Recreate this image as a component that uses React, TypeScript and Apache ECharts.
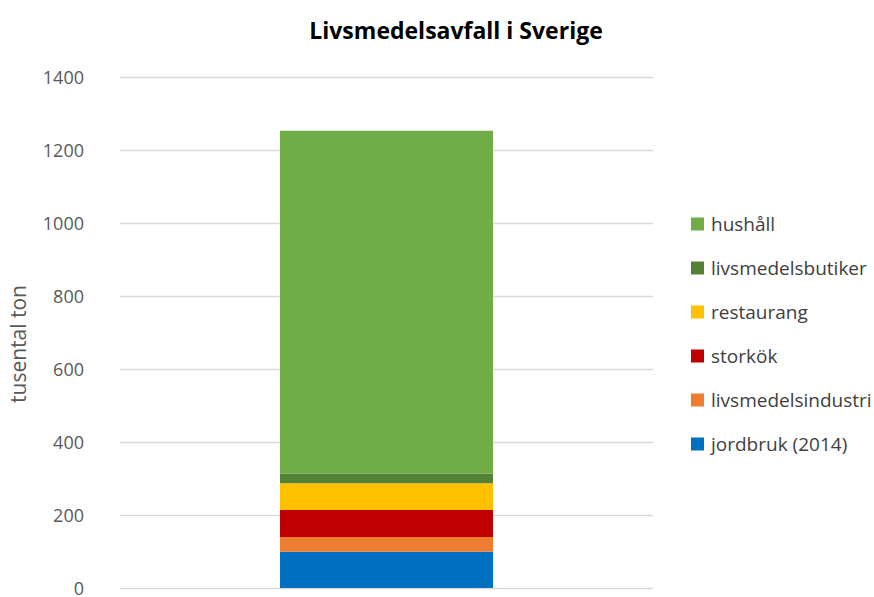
import React, { useEffect, useRef } from "react";
import * as echarts from "echarts";

const categories = ["Sverige"];
const seriesNames = [
  "jordbruk (2014)",
  "livsmedelsindustri",
  "storkök",
  "restaurang",
  "livsmedelsbutiker",
  "hushåll",
];
const seriesValues = [99, 41, 74, 73, 27, 939];
const seriesColors = ["#0070C0", "#ED7D31", "#C00000", "#FFC000", "#548235", "#70AD47"];
const legendOrder = [
  "hushåll",
  "livsmedelsbutiker",
  "restaurang",
  "storkök",
  "livsmedelsindustri",
  "jordbruk (2014)",
];
const yAxisTitle = "tusental ton";

export default function App() {
  const ref = useRef<HTMLDivElement>(null);
  useEffect(() => {
    if (!ref.current) return;
    const chart = echarts.init(ref.current, null, { renderer: "svg" });
    const font = "'Open Sans', 'Noto Sans', sans-serif";
    chart.setOption({
      animation: false,
      textStyle: { fontFamily: font },
      title: {
        text: "Livsmedelsavfall i Sverige",
        left: 451,
        top: 13,
        textAlign: "center",
        textStyle: { fontSize: 23, fontWeight: "bold", color: "#000", fontFamily: font },
      },
      grid: { left: 120, right: 221, top: 77, bottom: 6.5, containLabel: false },
      legend: {
        orient: "vertical",
        left: 691,
        top: 214.5,
        padding: 0,
        data: legendOrder,
        icon: "rect",
        itemWidth: 13,
        itemHeight: 13,
        itemGap: 25,
        textStyle: { fontSize: 19, lineHeight: 19, color: "#404040", fontFamily: font, padding: [0, 0, 0, 2] },
      },
      graphic: [
        {
          type: "text",
          x: 18,
          y: 344,
          rotation: Math.PI / 2,
          style: {
            text: yAxisTitle,
            fontSize: 21,
            fontFamily: font,
            fill: "#595959",
            textAlign: "center",
            textVerticalAlign: "middle",
          },
        },
      ],
      xAxis: {
        type: "category",
        data: categories,
        axisLine: { show: false },
        axisTick: { show: false },
        axisLabel: { show: false },
      },
      yAxis: {
        type: "value",
        min: 0,
        max: 1400,
        interval: 200,
        axisLine: { show: false },
        axisTick: { show: false },
        axisLabel: {
          fontSize: 18,
          color: "#595959",
          margin: 36,
          fontFamily: font,
          formatter: (v: number) => String(v),
        },
        splitLine: { lineStyle: { color: "#d9d9d9", width: 1.3 } },
      },
      series: seriesNames.map((name, i) => ({
        name,
        type: "bar",
        stack: "total",
        barWidth: 213,
        data: [seriesValues[i]],
        itemStyle: { color: seriesColors[i] },
      })),
    });
    return () => chart.dispose();
  }, []);
  return (
    <div
      ref={ref}
      style={{ position: "absolute", left: 0, top: 0, width: 874, height: 597 }}
    />
  );
}
